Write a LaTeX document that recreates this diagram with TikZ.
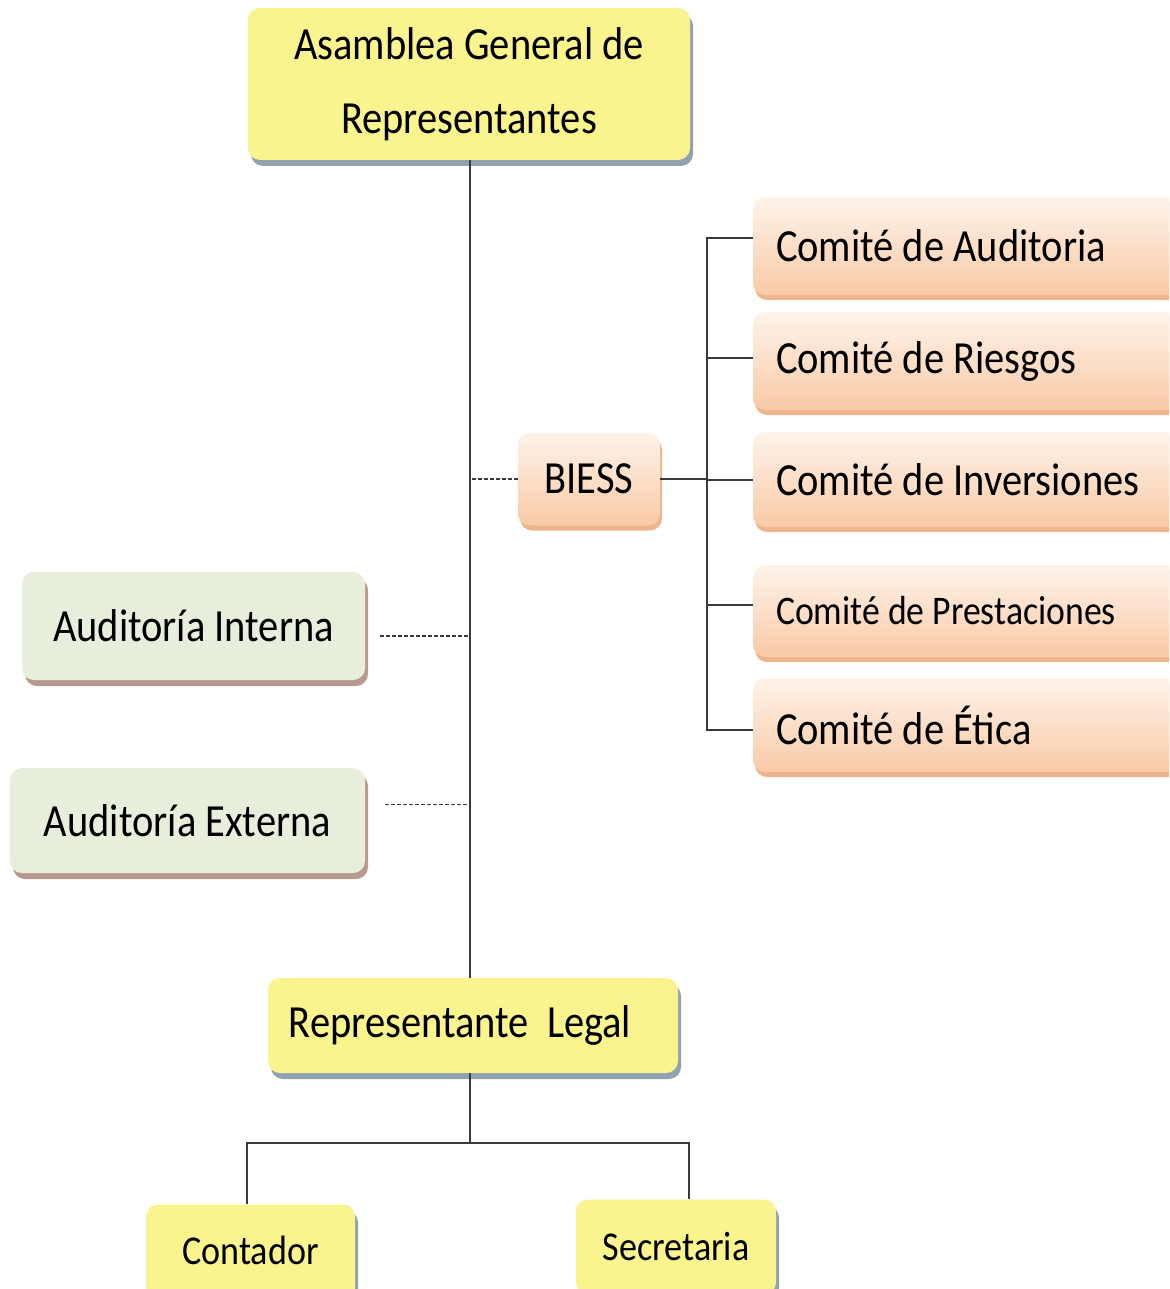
\documentclass[tikz,border=0pt]{standalone}
\usepackage{fontspec}
\setmainfont{Carlito}[FakeStretch=0.88]
\usetikzlibrary{shadows}
\definecolor{ylw}{HTML}{F9F48E}
\definecolor{ylwshadow}{HTML}{8497A8}
\definecolor{peachtop}{HTML}{FEF3EA}
\definecolor{peachbot}{HTML}{F9CAA6}
\definecolor{peachshadow}{HTML}{EBA97A}
\definecolor{grn}{HTML}{E8EEDC}
\definecolor{grnshadow}{HTML}{B08E84}
\definecolor{linec}{HTML}{3A3A3A}
\tikzset{
  boxbase/.style={rounded corners=6pt, inner sep=0pt, text=black},
  ybox/.style={boxbase, fill=ylw, drop shadow={shadow xshift=1.5pt, shadow yshift=-3pt, fill=ylwshadow, opacity=0.9}},
  pbox/.style={boxbase, top color=peachtop, bottom color=peachbot, drop shadow={shadow xshift=1pt, shadow yshift=-2.5pt, fill=peachshadow, opacity=0.85}},
  gbox/.style={boxbase, fill=grn, drop shadow={shadow xshift=1.5pt, shadow yshift=-3pt, fill=grnshadow, opacity=0.9}},
  combox/.style={pbox, minimum width=223.5pt, font=\fontsize{23pt}{28pt}\selectfont},
  conn/.style={draw=linec, line width=1pt},
  dconn/.style={draw=linec, line width=0.9pt, dash pattern=on 2pt off 1pt},
  bigtxt/.style={font=\fontsize{23pt}{37pt}\selectfont}
}
\newcommand{\comtxt}[1]{\makebox[200.5pt][l]{#1}}
\begin{document}
\begin{tikzpicture}[x=0.5pt,y=-0.5pt]
\useasboundingbox (0,0) rectangle (1169,1289);
\clip (0,0) rectangle (1169,1289);
\fill[white] (0,0) rectangle (1169,1289);

% nodes
\node[ybox, bigtxt, align=center, minimum width=221pt, minimum height=76pt] (asam) at (469,84) {Asamblea General de\\Representantes};
\node[pbox, bigtxt, minimum width=71pt, minimum height=46.5pt] (biess) at (589,479) {BIESS};
\node[combox, minimum height=49pt] (c1) at (976.5,246) {\comtxt{Comité de Auditoria}};
\node[combox, minimum height=49pt] (c2) at (976.5,361) {\comtxt{Comité de Riesgos}};
\node[combox, minimum height=47.5pt] (c3) at (976.5,479.5) {\comtxt{Comité de Inversiones}};
\node[combox, minimum height=46pt, font=\fontsize{20.3pt}{25pt}\selectfont] (c4) at (976.5,611) {\comtxt{Comité de Prestaciones}};
\node[combox, minimum height=47pt] (c5) at (976.5,725) {\comtxt{Comité de Ética}};
\node[gbox, bigtxt, minimum width=171.5pt, minimum height=54pt] (ai) at (193.5,626) {Auditoría Interna};
\node[gbox, bigtxt, minimum width=177.5pt, minimum height=52.5pt] (ae) at (187.5,820.5) {Auditoría Externa};
\node[ybox, bigtxt, minimum width=205pt, minimum height=47.5pt] (rep) at (473,1025.5) {Representante\ \ Legal\hspace*{13pt}};
\node[ybox, font=\fontsize{20.5pt}{25pt}\selectfont, minimum width=104.5pt, minimum height=47.5pt] (cont) at (250.5,1252) {\raisebox{2pt}{Contador}};
\node[ybox, font=\fontsize{20.5pt}{25pt}\selectfont, minimum width=100pt, minimum height=47.5pt] (sec) at (676,1247) {Secretaria};

% helper coordinates
\coordinate (busx) at (707,479);
\coordinate (fork) at (470,1143);

% main spine
\draw[conn] (asam.south -| fork) -- (rep.north -| fork);
% dashed links to spine
\draw[dconn] (biess.west) -- (biess.west -| fork);
\draw[dconn, shorten <=7.5pt] ([yshift=-5pt]ai.east) -- ([yshift=-5pt]ai.east -| fork);
\draw[dconn, shorten <=10pt] ([yshift=8pt]ae.east) -- ([yshift=8pt]ae.east -| fork);
% BIESS to committees
\draw[conn] (biess.east) -- (biess.east -| busx);
\draw[conn] ([yshift=4pt]c1.west) -- ([yshift=4pt]c1.west -| busx) -- ([yshift=-2.5pt]c5.west -| busx) -- ([yshift=-2.5pt]c5.west);
\draw[conn] ([yshift=1.5pt]c2.west) -- ([yshift=1.5pt]c2.west -| busx);
\draw[conn] (c3.west) -- (c3.west -| busx);
\draw[conn] ([yshift=3pt]c4.west) -- ([yshift=3pt]c4.west -| busx);
% bottom tree
\draw[conn] (rep.south -| fork) -- (fork);
\draw[conn] ([xshift=-2pt]cont.north) -- ([xshift=-2pt]cont.north |- fork) -- ([xshift=6.5pt]sec.north |- fork) -- ([xshift=6.5pt]sec.north);
\end{tikzpicture}
\end{document}
